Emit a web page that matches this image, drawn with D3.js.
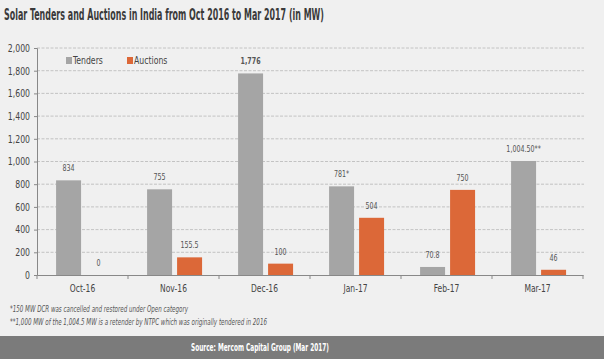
<!DOCTYPE html>
<html><head><meta charset="utf-8">
<script src="https://cdn.jsdelivr.net/npm/d3@7"></script>
<style>
html,body{margin:0;padding:0;background:#f0f0f0;}
svg{display:block;}
</style></head>
<body>
<script>
const categories = ["Oct-16","Nov-16","Dec-16","Jan-17","Feb-17","Mar-17"];
const tenders = [834, 755, 1776, 781, 70.8, 1004.5];
const auctions = [0, 155.5, 100, 504, 750, 46];
const tenderLabels = ["834","755","1,776","781*","70.8","1,004.50**"];
const auctionLabels = ["0","155.5","100","504","750","46"];
const yTicks = [0,200,400,600,800,1000,1200,1400,1600,1800,2000];
const seriesNames = ["Tenders","Auctions"];
const colors = ["#a5a5a5","#dc6838"];

const W=604,H=359;
const svg=d3.select("body").append("svg").attr("width",W).attr("height",H);
svg.append("rect").attr("width",W).attr("height",H).attr("fill","#f0f0f0");
const cond="'DejaVu Sans Condensed','Liberation Sans',sans-serif";

function squeeze(sel,f){
  sel.each(function(){const L=this.getComputedTextLength();d3.select(this).attr("textLength",L*f).attr("lengthAdjust","spacingAndGlyphs");});
}
function fit(sel,w){sel.attr("textLength",w).attr("lengthAdjust","spacingAndGlyphs");}

fit(svg.append("text").attr("x",4).attr("y",20).text("Solar Tenders and Auctions in India from Oct 2016 to Mar 2017 (in MW)")
  .attr("font-family",cond).attr("font-weight","bold").attr("font-size",15).attr("fill","#3a3a3a"),320);

const x0=d3.scaleBand().domain(categories).range([37,583]);
const y=d3.scaleLinear().domain([0,2000]).range([275,48]);
const x1=d3.scaleBand().domain(seriesNames).range([0,x0.bandwidth()]).paddingInner(0.167).paddingOuter(0.6).align(0.53);

// grid
svg.append("g").selectAll("line").data(yTicks.slice(1)).join("line")
  .attr("x1",37).attr("x2",584).attr("y1",d=>y(d)).attr("y2",d=>y(d))
  .attr("stroke","#b8b8b8").attr("stroke-dasharray","3,1.5").attr("stroke-width",0.8);

// y axis
const ya=svg.append("g").attr("transform","translate(37,0)").call(d3.axisLeft(y).tickValues(yTicks).tickFormat(d3.format(",")).tickSize(3));
ya.select(".domain").attr("stroke","#888");
ya.selectAll(".tick line").attr("stroke","#888");
ya.selectAll("text").attr("font-family",cond).attr("font-size",10.5).attr("fill","#444").attr("x",-7).call(squeeze,0.82);

// x axis
const xa=svg.append("g").attr("transform","translate(0,275)").call(d3.axisBottom(x0).tickSize(0));
xa.select(".domain").attr("stroke","#888");
xa.selectAll("text").attr("font-family",cond).attr("font-size",10.5).attr("fill","#444").attr("dy","1.05em").attr("y",6).call(squeeze,0.8);
svg.append("g").selectAll("line").data(d3.range(categories.length+1)).join("line")
  .attr("x1",i=>37+i*x0.step()).attr("x2",i=>37+i*x0.step()).attr("y1",275).attr("y2",279).attr("stroke","#888");

const data=categories.map((c,i)=>({c,vals:[{s:"Tenders",v:tenders[i],l:tenderLabels[i]},{s:"Auctions",v:auctions[i],l:auctionLabels[i]}]}));
const g=svg.append("g").selectAll("g").data(data).join("g").attr("transform",d=>`translate(${x0(d.c)},0)`);
g.selectAll("rect").data(d=>d.vals).join("rect")
  .attr("x",d=>x1(d.s)).attr("width",x1.bandwidth()).attr("y",d=>y(d.v)).attr("height",d=>y(0)-y(d.v))
  .attr("fill",(d,i)=>colors[i]);
g.selectAll("text").data(d=>d.vals).join("text")
  .attr("x",d=>x1(d.s)+x1.bandwidth()/2).attr("y",d=>y(d.v)-9).attr("text-anchor","middle")
  .attr("font-family",cond).attr("font-size",9).attr("fill","#555")
  .attr("font-weight",d=>d.l==="1,776"?"bold":"normal").text(d=>d.l).call(squeeze,0.78);

// legend
const lg=svg.append("g");
seriesNames.forEach((s,i)=>{
  const lx=[66,127][i];
  lg.append("rect").attr("x",lx).attr("y",57).attr("width",6).attr("height",7).attr("fill",colors[i]);
  lg.append("text").attr("x",lx+7).attr("y",64).text(s).attr("font-family",cond).attr("font-size",10.5).attr("fill","#444").call(squeeze,0.82);
});

// footnotes
fit(svg.append("text").attr("x",10).attr("y",312).text("*150 MW DCR was cancelled and restored under Open category")
  .attr("font-family",cond).attr("font-style","italic").attr("font-size",8.5).attr("fill","#555"),178);
fit(svg.append("text").attr("x",10).attr("y",325).text("**1,000 MW of the 1,004.5 MW is a retender by NTPC which was originally tendered in 2016")
  .attr("font-family",cond).attr("font-style","italic").attr("font-size",8.5).attr("fill","#555"),257);

// source bar
svg.append("rect").attr("x",0).attr("y",336).attr("width",W).attr("height",23).attr("fill","#7b7b7b");
fit(svg.append("text").attr("x",191).attr("y",351).text("Source: Mercom Capital Group (Mar 2017)")
  .attr("font-family",cond).attr("font-weight","bold").attr("font-size",11).attr("fill","#fff"),138);
</script>
</body></html>
